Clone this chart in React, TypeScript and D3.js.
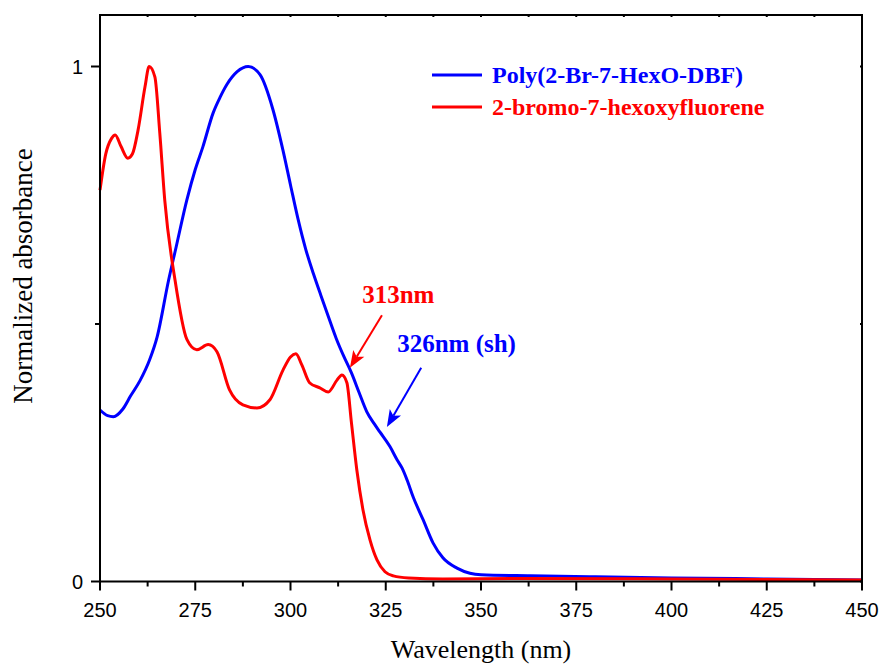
import React, { useEffect, useRef } from "react";
import * as d3 from "d3";

// Poly(2-Br-7-HexO-DBF): wavelength (nm) and normalized absorbance
const polyWavelength = [
  250, 252, 253.5, 256, 258, 260.5, 263, 265, 268, 270, 272.8, 275, 277, 279.7,
  281.5, 283.3, 286, 288.9, 292, 295.4, 298, 300, 302, 304, 306, 308, 310, 312,
  314, 316, 318, 320, 322, 323.5, 326.1, 328, 329.3, 330.6, 332.2, 334.8, 337.4,
  340, 343.7, 347.1, 350, 363, 380, 400, 425, 450,
];
const polyAbsorbance = [
  0.333, 0.322, 0.32, 0.335, 0.36, 0.39, 0.43, 0.475, 0.585, 0.65, 0.741, 0.8,
  0.844, 0.91, 0.94, 0.965, 0.99, 1.0, 0.984, 0.916, 0.838, 0.77, 0.703, 0.645,
  0.598, 0.555, 0.513, 0.472, 0.437, 0.405, 0.367, 0.33, 0.306, 0.29, 0.262,
  0.236, 0.22, 0.197, 0.164, 0.12, 0.075, 0.046, 0.026, 0.016, 0.013, 0.011,
  0.009, 0.007, 0.005, 0.003,
];

// 2-bromo-7-hexoxyfluorene: wavelength (nm) and normalized absorbance
const monoWavelength = [
  250, 251.5, 253, 254, 255.5, 257.3, 258.5, 260, 261.8, 262.9, 264.4, 265.7,
  267, 269.7, 272.8, 275.4, 278.4, 280.7, 284, 287.5, 291.2, 294.6, 298, 300,
  301.4, 303, 305, 307.7, 309.9, 312.2, 313.5, 314.8, 316, 317.4, 319, 320.9,
  322.7, 324.8, 327, 331, 340, 360, 400, 450,
];
const monoAbsorbance = [
  0.76, 0.83, 0.86, 0.867, 0.845, 0.822, 0.83, 0.877, 0.96, 1.0, 0.98, 0.87,
  0.74, 0.585, 0.47, 0.45, 0.46, 0.446, 0.372, 0.343, 0.337, 0.353, 0.41, 0.436,
  0.442, 0.42, 0.386, 0.376, 0.368, 0.391, 0.401, 0.386, 0.308, 0.217, 0.14,
  0.08, 0.042, 0.019, 0.011, 0.007, 0.005, 0.006, 0.005, 0.003,
];

const seriesNames = ["Poly(2-Br-7-HexO-DBF)", "2-bromo-7-hexoxyfluorene"];
const seriesColors = ["#0000ff", "#ff0000"];

const xMajorTicks = [250, 275, 300, 325, 350, 375, 400, 425, 450];
const xMinorTicks = [262.5, 287.5, 312.5, 337.5, 362.5, 387.5, 412.5, 437.5];
const yLabeledTicks = [0, 1];
const yMinorTicks = [0.5];

// Peak annotations: label, arrow tail and tip in data units
const annotations = [
  { label: "313nm", color: "#ff0000", textAt: [318.8, 0.541], tail: [324, 0.517], tip: [315.6, 0.415] },
  { label: "326nm (sh)", color: "#0000ff", textAt: [328, 0.446], tail: [334.3, 0.415], tip: [325.3, 0.3] },
];

const W = 883;
const H = 664;

export default function App() {
  const ref = useRef<SVGSVGElement>(null);

  useEffect(() => {
    const svg = d3.select(ref.current);
    svg.selectAll("*").remove();

    const x = d3.scaleLinear().domain([250, 450]).range([100, 862]);
    const y = d3.scaleLinear().domain([0, 1.1]).range([581.5, 15]);

    const line = d3
      .line<[number, number]>()
      .x((d) => x(d[0]))
      .y((d) => y(d[1]))
      .curve(d3.curveMonotoneX);

    const series = [
      polyWavelength.map((w, i) => [w, polyAbsorbance[i]] as [number, number]),
      monoWavelength.map((w, i) => [w, monoAbsorbance[i]] as [number, number]),
    ];

    const g = svg.append("g");

    // curves
    series.forEach((s, i) => {
      g.append("path")
        .attr("d", line(s))
        .attr("fill", "none")
        .attr("stroke", seriesColors[i])
        .attr("stroke-width", 3)
        .attr("stroke-linejoin", "round");
    });

    // frame
    g.append("rect")
      .attr("x", x(250))
      .attr("y", y(1.1))
      .attr("width", x(450) - x(250))
      .attr("height", y(0) - y(1.1))
      .attr("fill", "none")
      .attr("stroke", "#000")
      .attr("stroke-width", 2);

    // ticks: outward on bottom/left, tiny inward on top/right
    const axisG = g.append("g").attr("stroke", "#000").attr("stroke-width", 2);
    xMajorTicks.forEach((t) => {
      axisG.append("line").attr("x1", x(t)).attr("x2", x(t)).attr("y1", y(0)).attr("y2", y(0) + 9);
      axisG.append("line").attr("x1", x(t)).attr("x2", x(t)).attr("y1", y(1.1)).attr("y2", y(1.1) + 2);
    });
    xMinorTicks.forEach((t) => {
      axisG.append("line").attr("x1", x(t)).attr("x2", x(t)).attr("y1", y(0)).attr("y2", y(0) + 5);
      axisG.append("line").attr("x1", x(t)).attr("x2", x(t)).attr("y1", y(1.1)).attr("y2", y(1.1) + 2);
    });
    yLabeledTicks.forEach((t) => {
      axisG.append("line").attr("x1", x(250) - 9).attr("x2", x(250)).attr("y1", y(t)).attr("y2", y(t));
      axisG.append("line").attr("x1", x(450) - 2).attr("x2", x(450)).attr("y1", y(t)).attr("y2", y(t));
    });
    yMinorTicks.forEach((t) => {
      axisG.append("line").attr("x1", x(250) - 5).attr("x2", x(250)).attr("y1", y(t)).attr("y2", y(t));
      axisG.append("line").attr("x1", x(450) - 2).attr("x2", x(450)).attr("y1", y(t)).attr("y2", y(t));
    });

    const sans = "'Liberation Sans', Arial, sans-serif";
    const serif = "'Liberation Serif', 'Times New Roman', serif";

    xMajorTicks.forEach((t) => {
      g.append("text")
        .attr("x", x(t))
        .attr("y", 617)
        .attr("text-anchor", "middle")
        .attr("font-family", sans)
        .attr("font-size", 20)
        .text(String(t));
    });
    yLabeledTicks.forEach((t) => {
      g.append("text")
        .attr("x", 83)
        .attr("y", y(t) + 7)
        .attr("text-anchor", "end")
        .attr("font-family", sans)
        .attr("font-size", 20)
        .text(String(t));
    });

    g.append("text")
      .attr("x", 481)
      .attr("y", 658)
      .attr("text-anchor", "middle")
      .attr("font-family", serif)
      .attr("font-size", 26)
      .text("Wavelength (nm)");

    g.append("text")
      .attr("transform", `translate(32,${276}) rotate(-90)`)
      .attr("text-anchor", "middle")
      .attr("font-family", serif)
      .attr("font-size", 27)
      .text("Normalized absorbance");

    // legend
    seriesNames.forEach((name, i) => {
      const ly = 75 + i * 32;
      g.append("line")
        .attr("x1", 432)
        .attr("x2", 482)
        .attr("y1", ly)
        .attr("y2", ly)
        .attr("stroke", seriesColors[i])
        .attr("stroke-width", 3);
      g.append("text")
        .attr("x", 492)
        .attr("y", ly + 8)
        .attr("font-family", serif)
        .attr("font-weight", "bold")
        .attr("font-size", 24)
        .attr("fill", seriesColors[i])
        .text(name);
    });

    // annotations with arrows
    annotations.forEach((a) => {
      const tx = x(a.tail[0]);
      const ty = y(a.tail[1]);
      const px = x(a.tip[0]);
      const py = y(a.tip[1]);
      const len = Math.hypot(px - tx, py - ty);
      const ux = (px - tx) / len;
      const uy = (py - ty) / len;
      const nx = -uy;
      const ny = ux;
      const L = 17;
      const hw = 6.5;
      const notch = 4;
      const bx = px - ux * L;
      const by = py - uy * L;
      g.append("line")
        .attr("x1", tx)
        .attr("y1", ty)
        .attr("x2", px - ux * (L - notch))
        .attr("y2", py - uy * (L - notch))
        .attr("stroke", a.color)
        .attr("stroke-width", 2);
      g.append("polygon")
        .attr(
          "points",
          [
            [px, py],
            [bx + nx * hw, by + ny * hw],
            [px - ux * (L - notch), py - uy * (L - notch)],
            [bx - nx * hw, by - ny * hw],
          ]
            .map((p) => p.join(","))
            .join(" ")
        )
        .attr("fill", a.color);
      g.append("text")
        .attr("x", x(a.textAt[0]))
        .attr("y", y(a.textAt[1]))
        .attr("font-family", serif)
        .attr("font-weight", "bold")
        .attr("font-size", 25)
        .attr("fill", a.color)
        .text(a.label);
    });
  }, []);

  return (
    <svg
      ref={ref}
      width={W}
      height={H}
      style={{ position: "absolute", left: 0, top: 0, background: "#fff" }}
    />
  );
}
